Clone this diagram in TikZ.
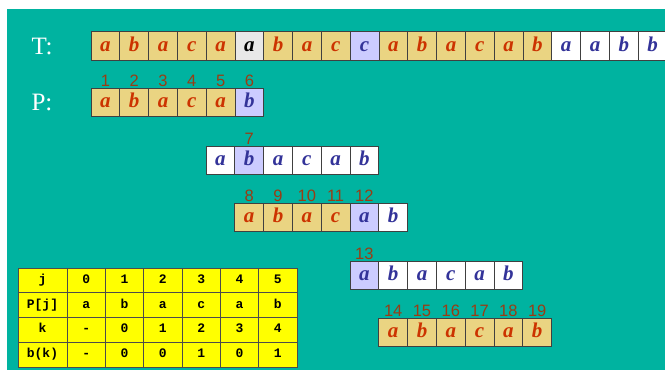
\documentclass[tikz,border=0pt]{standalone}
\usepackage{fontspec}
\setmainfont{Liberation Serif}
\newfontfamily\numfont{Liberation Sans}
\newfontfamily\codefont{Liberation Mono}
\usetikzlibrary{positioning}
\definecolor{slidebg}{RGB}{0,179,160}
\definecolor{matchfill}{RGB}{234,212,130}
\definecolor{failfill}{RGB}{204,204,255}
\definecolor{skipfill}{RGB}{232,232,232}
\definecolor{matchtxt}{RGB}{204,51,0}
\definecolor{plaintxt}{RGB}{51,51,153}
\definecolor{stepnum}{RGB}{153,60,20}
\definecolor{tabfill}{RGB}{255,255,0}
\begin{document}
\begin{tikzpicture}[x=1pt,y=-1pt,
  chr/.style={draw=black!75,line width=0.8pt,minimum width=28.8pt,minimum height=28.5pt,inner sep=0pt,
    text height=13.5pt,text depth=3.5pt,font=\fontsize{21}{21}\selectfont\bfseries\itshape},
  hit/.style={chr,fill=matchfill,text=matchtxt},
  miss/.style={chr,fill=failfill,text=plaintxt},
  rest/.style={chr,fill=white,text=plaintxt},
  cmp/.style={chr,fill=skipfill,text=black},
  num/.style={font=\numfont\fontsize{16.5}{16.5}\selectfont,text=stepnum,inner sep=0pt},
  lbl/.style={font=\fontsize{25}{25}\selectfont,text=white},
  tab/.style={draw=black!70,fill=tabfill,line width=0.7pt,minimum height=24.75pt,inner sep=0pt,
    text height=8pt,text depth=2pt,font=\codefont\bfseries\fontsize{13}{13}\selectfont}]
  \useasboundingbox (0,0) rectangle (665,370);
  \fill[slidebg] (7,9) rectangle (665,370);
  % text T and pattern P
  \node[lbl] (tlab) at (42,46) {T:};
  \node[lbl] (plab) at (42,102) {P:};
  \foreach \ch/\sty [count=\i] in {a/hit,b/hit,a/hit,c/hit,a/hit,a/cmp,b/hit,a/hit,c/hit,c/miss,
      a/hit,b/hit,a/hit,c/hit,a/hit,b/hit,a/rest,a/rest,b/rest,b/rest}
    \node[\sty] (t\i) at ({105.4+28.8*(\i-1)},46) {\ch};
  \foreach \ch/\sty [count=\i] in {a/hit,b/hit,a/hit,c/hit,a/hit,b/miss}{
    \node[\sty] (p\i) at ({105.4+28.8*(\i-1)},102.5) {\ch};
    \node[num,above=1pt of p\i] (np\i) {\i};}
  % shifts of the pattern
  \foreach \ch/\sty [count=\i] in {a/rest,b/miss,a/rest,c/rest,a/rest,b/rest}
    \node[\sty] (q\i) at ({220.4+28.8*(\i-1)},160.5) {\ch};
  \node[num,above=1pt of q2] (nq2) {7};
  \foreach \ch/\sty [count=\i] in {a/hit,b/hit,a/hit,c/hit,a/miss,b/rest}
    \node[\sty] (r\i) at ({249.2+28.8*(\i-1)},217.5) {\ch};
  \foreach \i/\n in {1/8,2/9,3/10,4/11,5/12}
    \node[num,above=1pt of r\i] (nr\i) {\n};
  \foreach \ch/\sty [count=\i] in {a/miss,b/rest,a/rest,c/rest,a/rest,b/rest}
    \node[\sty] (s\i) at ({364.4+28.8*(\i-1)},275.5) {\ch};
  \node[num,above=1pt of s1] (ns1) {13};
  \foreach \ch/\sty [count=\i] in {a/hit,b/hit,a/hit,c/hit,a/hit,b/hit}{
    \node[\sty] (u\i) at ({393.2+28.8*(\i-1)},332.5) {\ch};
    \pgfmathtruncatemacro{\n}{13+\i}
    \node[num,above=1pt of u\i] (nu\i) {\n};}
  % border table
  \foreach \hd/\va/\vb/\vc/\vd/\ve/\vf [count=\r] in {j/0/1/2/3/4/5,P[j]/a/b/a/c/a/b,
      k/-/0/1/2/3/4,b(k)/-/0/0/1/0/1}{
    \node[tab,minimum width=49pt] (h\r) at (42.5,{255.6+24.75*\r}) {\hd};
    \foreach \v [count=\c] in {\va,\vb,\vc,\vd,\ve,\vf}
      \node[tab,minimum width=38.33pt] (b\r-\c) at ({86.2+38.33*(\c-1)},{255.6+24.75*\r}) {\v};}
\end{tikzpicture}
\end{document}
